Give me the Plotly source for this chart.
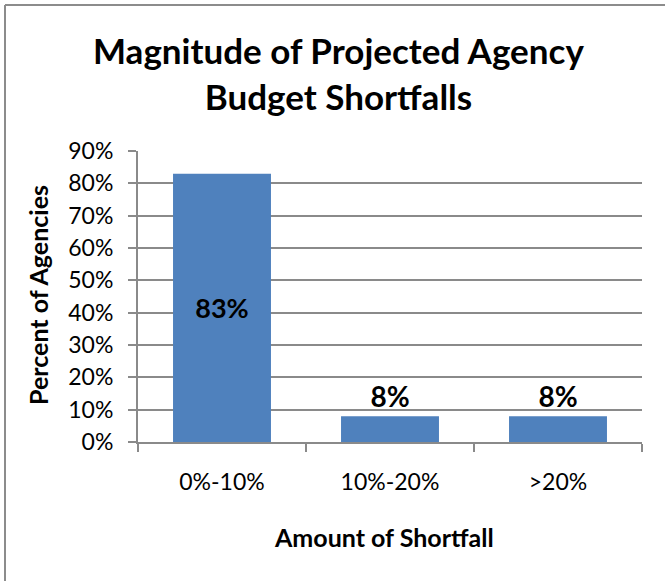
import plotly.graph_objects as go

categories = ["0%-10%", "10%-20%", ">20%"]
values = [0.83, 0.08, 0.08]
label_positions = ["inside", "outside", "outside"]
y_ticks = [0, 0.1, 0.2, 0.3, 0.4, 0.5, 0.6, 0.7, 0.8, 0.9]

title_text = "Magnitude of Projected Agency<br>Budget Shortfalls"
x_title = "Amount of Shortfall"
y_title = "Percent of Agencies"

FONT = "Lato"
GRID = "#8a8a8a"
BAR = "#4F81BD"

W, H = 665, 581
L, R, T, B = 138, 23, 151, 139
pw, ph = W - L - R, H - T - B

def px_x(p):
    return (p - L) / pw

def px_y(p):
    return (H - B - p) / ph

fig = go.Figure()
fig.add_trace(go.Bar(
    x=categories, y=values,
    marker=dict(color=BAR, line=dict(width=0)),
    texttemplate="%{y:.0%}",
    textposition=label_positions,
    insidetextanchor="middle",
    textfont=dict(family=FONT, size=27, color="black", weight="bold"),
    outsidetextfont=dict(family=FONT, size=28, color="black", weight="bold"),
    insidetextfont=dict(family=FONT, size=27, color="black", weight="bold"),
    cliponaxis=False,
    constraintext="none",
))

fig.update_layout(
    width=W, height=H,
    margin=dict(l=L, r=R, t=T, b=B, pad=0),
    paper_bgcolor="white", plot_bgcolor="white",
    bargap=0.417,
    showlegend=False,
    font=dict(family=FONT, color="black"),
    annotations=[
        dict(text="<b>" + title_text + "</b>", xref="paper", yref="paper",
             x=px_x(338), y=px_y(73), xanchor="center", yanchor="middle",
             showarrow=False, font=dict(family=FONT, size=35, color="black")),
        dict(text="<b>" + y_title + "</b>", xref="paper", yref="paper",
             x=px_x(38), y=px_y(295), xanchor="center", yanchor="middle",
             textangle=-90, showarrow=False,
             font=dict(family=FONT, size=25, color="black")),
        dict(text="<b>" + x_title + "</b>", xref="paper", yref="paper",
             x=px_x(384), y=px_y(537), xanchor="center", yanchor="middle",
             showarrow=False, font=dict(family=FONT, size=25, color="black")),
    ],
    shapes=[
        dict(type="line", xref="paper", yref="paper",
             x0=px_x(5), x1=px_x(700), y0=px_y(5), y1=px_y(5),
             line=dict(color="#8c8c8c", width=2)),
        dict(type="line", xref="paper", yref="paper",
             x0=px_x(5), x1=px_x(5), y0=px_y(5), y1=px_y(700),
             line=dict(color="#8c8c8c", width=2)),
    ],
)

fig.update_xaxes(
    showline=True, linecolor=GRID, linewidth=2,
    ticks="outside", ticklen=8, tickcolor=GRID, tickwidth=2,
    tickson="boundaries",
    tickfont=dict(family=FONT, size=23, color="black"),
    ticklabelstandoff=18,
    showgrid=False,
)
fig.update_yaxes(
    range=[0, 0.9], tickvals=y_ticks, tickformat=".0%",
    showline=True, linecolor=GRID, linewidth=2,
    ticks="outside", ticklen=8, tickcolor=GRID, tickwidth=2,
    showgrid=True, gridcolor=GRID, gridwidth=1.5,
    zeroline=False,
    tickfont=dict(family=FONT, size=23, color="black"),
    ticklabelstandoff=10,
)

fig.write_html("out.html", config={"displayModeBar": False},
               post_script="document.body.style.margin='0';")
